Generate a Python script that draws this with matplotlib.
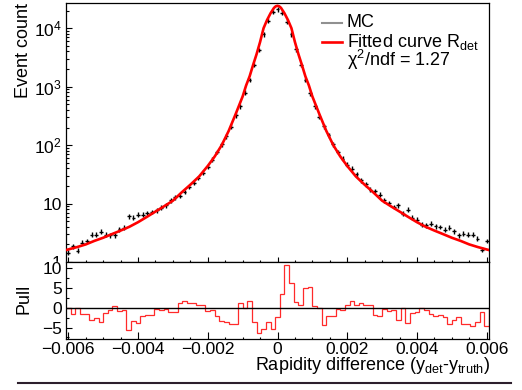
import matplotlib
matplotlib.use("Agg")
import matplotlib.pyplot as plt  # noqa: E402
import numpy as np  # noqa: E402
from matplotlib.lines import Line2D  # noqa: E402
from matplotlib.patches import Rectangle  # noqa: E402
from matplotlib.ticker import FixedLocator, MultipleLocator, NullFormatter  # noqa: E402

plt.rcParams["font.family"] = ["Liberation Sans", "DejaVu Sans"]
plt.rcParams["mathtext.fontset"] = "custom"
plt.rcParams["mathtext.rm"] = "Liberation Sans"
plt.rcParams["mathtext.it"] = "Liberation Sans:italic"
plt.rcParams["mathtext.bf"] = "Liberation Sans:bold"

# MC histogram: 91 bins between -0.006 and 0.006 (bin centres)
x_lo, x_hi, n_bins = -0.006, 0.006, 91
counts = [
    1.44, 1.87, 1.56, 2.14, 2.28, 2.94, 2.94, 3.31, 2.94, 2.86,
    2.86, 3.62, 3.87, 6.05, 5.75, 6.47, 6.47, 6.90, 7.18, 7.68,
    8.53, 9.35, 11.4, 12.7, 13.5, 15.8, 19.2, 22.5, 27.4, 33.9,
    42.3, 56.6, 76.4, 103.5, 142, 205, 326, 465, 785, 1297,
    2346, 4243, 7890, 13500, 19000, 21200, 18500, 13000, 7890, 4365,
    2346, 1297, 767, 465, 305, 211, 148, 103.5, 76.4, 58.9,
    46.5, 39.7, 31.7, 25.0, 21.3, 17.3, 16.4, 14.2, 11.4, 10.2,
    8.75, 9.35, 6.74, 7.89, 5.75, 5.32, 4.36, 4.25, 4.54, 4.08,
    3.97, 3.58, 3.87, 3.35, 2.86, 3.06, 2.94, 2.94, 2.51, 1.63,
    2.28,
]

# fitted curve R_det (x in units of 1e-3)
fit_x_milli = [
    -6.067, -5.75, -5.5, -5.25, -5.0, -4.75, -4.5, -4.25, -4.0, -3.75,
    -3.5, -3.25, -3.0, -2.75, -2.5, -2.25, -2.0, -1.8, -1.6, -1.4,
    -1.2, -1.0, -0.9, -0.8, -0.7, -0.6, -0.5, -0.4, -0.3, -0.2,
    -0.1, -0.05, 0.0, 0.05, 0.1, 0.2, 0.3, 0.4, 0.5, 0.6,
    0.7, 0.8, 0.9, 1.0, 1.2, 1.4, 1.6, 1.8, 2.0, 2.25,
    2.5, 2.75, 3.0, 3.25, 3.5, 3.75, 4.0, 4.25, 4.5, 4.75,
    5.0, 5.25, 5.5, 5.75, 6.067,
]
fit_y = [
    1.6, 1.8, 2.0, 2.3, 2.6, 3.0, 3.45, 4.0, 4.8, 5.9,
    7.3, 9.0, 11.2, 15.5, 21.0, 29.0, 44.0, 64.0, 100.0, 175.0,
    340.0, 680.0, 1050.0, 1500.0, 2350.0, 3600.0, 5800.0, 10000.0, 13800.0, 18000.0,
    22300.0, 23700.0, 24200.0, 23700.0, 22300.0, 18000.0, 13800.0, 10000.0, 5800.0, 3600.0,
    2350.0, 1500.0, 1050.0, 680.0, 340.0, 175.0, 100.0, 64.0, 44.0, 29.0,
    21.0, 15.5, 11.2, 9.0, 7.3, 5.9, 4.8, 4.0, 3.45, 3.0,
    2.6, 2.3, 2.0, 1.8, 1.6,
]

pull = [
    0.0, -1.5, 0.0, -1.5, -1.5, -3.1, -2.5, -3.5, -1.2, -0.5,
    0.5, -0.9, -0.6, -5.6, -3.3, -3.8, -1.95, -1.8, -1.8, -0.3,
    -0.6, -0.2, -1.1, -1.0, 1.2, 1.6, 1.1, 1.1, 0.8, 0.6,
    -0.8, -0.6, -2.2, -3.3, -3.7, -4.0, -4.0, 1.2, 0.0, 1.8,
    -3.7, -6.3, -5.4, -3.5, -5.4, -2.4, 3.6, 10.8, 6.4, 1.4,
    0.7, 5.1, 5.2, 0.5, 0.0, -4.4, -2.2, -2.2, -0.3, -0.6,
    0.8, 1.8, 0.6, 1.2, 0.6, 0.8, -1.8, -2.2, -0.3, -0.9,
    -0.5, -3.1, 0.0, -3.9, -1.2, -1.0, 0.0, -0.5, -1.5, -2.0,
    -1.9, -2.4, -4.2, -3.1, -2.3, -4.2, -4.1, -4.6, -3.5, -1.1,
    -4.6,
]

chi2_ndf = 1.27
rel_err = 0.1

W, H = 522, 390


def fx(px):
    return px / W


def fy(py):
    return 1 - py / H


bin_x = np.linspace(x_lo, x_hi, n_bins)
half = (x_hi - x_lo) / (n_bins - 1) / 2
edges = np.linspace(x_lo - half, x_hi + half, n_bins + 1)
counts = np.array(counts)

fig = plt.figure(figsize=(W / 100, H / 100), dpi=100)
ax = fig.add_axes([fx(66), fy(262), (489 - 66) / W, (262 - 3) / H])
axp = fig.add_axes([fx(66), fy(339), (489 - 66) / W, (339 - 262) / H])
ax.set_zorder(0)
axp.set_zorder(1)

# top pad
ax.set_yscale("log")
ax.errorbar(bin_x, counts, xerr=half * 0.8,
            yerr=[counts * (1 - 1 / (1 + rel_err)), counts * rel_err],
            fmt="none", ecolor="black", elinewidth=1.0, capsize=0, zorder=2)
ax.plot(np.array(fit_x_milli) * 1e-3, fit_y, color="red", lw=1.9, zorder=3)
ax.set_xlim(edges[0], edges[-1])
ax.set_ylim(1, 2.7e4)

ax.xaxis.set_major_locator(MultipleLocator(0.002))
ax.xaxis.set_minor_locator(MultipleLocator(0.0005))
ax.xaxis.set_major_formatter(NullFormatter())
ax.yaxis.set_major_locator(FixedLocator([1, 10, 100, 1000, 10000]))
ax.set_yticklabels(["1", "10", "$10^{2}$", "$10^{3}$", "$10^{4}$"])
ax.yaxis.set_minor_locator(FixedLocator(
    [m * 10 ** d for d in range(0, 5) for m in range(2, 10)]))
ax.yaxis.set_minor_formatter(NullFormatter())
ax.tick_params(axis="x", which="major", direction="in", length=3.6, width=0.8)
ax.tick_params(axis="x", which="minor", direction="in", length=1.7, width=0.8)
ax.tick_params(axis="y", which="major", direction="in", length=4.3, width=0.8,
               labelsize=12.5, pad=3)
ax.tick_params(axis="y", which="minor", direction="in", length=2.0, width=0.8)
for s in ax.spines.values():
    s.set_linewidth(0.9)

# white cover so the pull pad hides the lower half of the "1" label
fig.add_artist(Rectangle((0, fy(339)), fx(66), (339 - 262) / H,
                         transform=fig.transFigure, color="white", zorder=0.5))

# pull pad
axp.stairs(pull, edges, color="#ff2a2a", lw=0.9)
axp.axhline(0, color="black", lw=1.0)
axp.set_xlim(edges[0], edges[-1])
axp.set_ylim(-7.9, 11.6)
axp.xaxis.set_major_locator(MultipleLocator(0.002))
axp.xaxis.set_minor_locator(MultipleLocator(0.0005))
axp.xaxis.set_major_formatter(lambda v, p: "0" if abs(v) < 1e-9 else f"{v:.3f}".replace("-", "\u2212"))
axp.yaxis.set_major_locator(FixedLocator([-5, 0, 5, 10]))
axp.yaxis.set_minor_locator(MultipleLocator(2.5))
axp.tick_params(axis="x", which="major", direction="in", length=4.8, width=0.8,
                labelsize=12.5, pad=2.5)
axp.tick_params(axis="x", which="minor", direction="in", length=1.8, width=0.8)
axp.tick_params(axis="y", which="major", direction="in", length=4.3, width=0.8,
                labelsize=12.5, pad=3)
axp.tick_params(axis="y", which="minor", direction="in", length=2.0, width=0.8)
for s in axp.spines.values():
    s.set_linewidth(0.9)

# axis titles
fig.text(fx(24), fy(3), "Event count", rotation=90, ha="center", va="top", fontsize=13)
fig.text(fx(24), fy(299), "Pull", rotation=90, ha="center", va="center", fontsize=13)
fig.text(fx(490), fy(369.5),
         r"Rapidity difference (y$_{\mathrm{det}}$-y$_{\mathrm{truth}}$)",
         ha="right", va="baseline", fontsize=13)

# legend
fig.add_artist(Line2D([fx(322), fx(342)], [fy(22.7)] * 2, color="#909090", lw=1.5))
fig.add_artist(Line2D([fx(322), fx(342)], [fy(41.7)] * 2, color="red", lw=1.9))
fig.text(fx(347), fy(26.7), "MC", ha="left", va="baseline", fontsize=13)
fig.text(fx(347), fy(46.7), r"Fitted curve R$_{\mathrm{det}}$", ha="left", va="baseline", fontsize=13)
fig.text(fx(347), fy(66), f"\u03c7$^{{2}}$/ndf = {chi2_ndf:.2f}", ha="left", va="baseline", fontsize=13)

# bottom rule of the page
fig.add_artist(Line2D([fx(18), fx(511)], [fy(383)] * 2, color="#2d1f2d", lw=1.5))

fig.savefig("out.png", dpi=100)
